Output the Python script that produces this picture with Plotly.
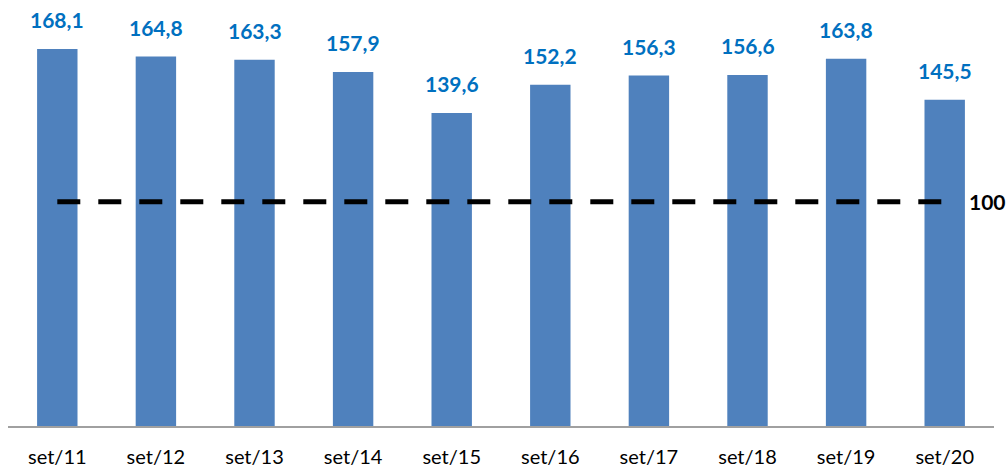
import plotly.graph_objects as go

categories = ["set/11", "set/12", "set/13", "set/14", "set/15", "set/16", "set/17", "set/18", "set/19", "set/20"]
values = [168.1, 164.8, 163.3, 157.9, 139.6, 152.2, 156.3, 156.6, 163.8, 145.5]
reference = [100] * len(categories)
ref_label = "100"

def fmt(v):
    return f"{v:.1f}".replace(".", ",")

fig = go.Figure()
fig.add_trace(go.Bar(x=categories, y=values, marker=dict(color="#4F81BD", line=dict(width=0)),
                     hoverinfo="skip"))
fig.add_trace(go.Scatter(x=categories, y=reference, mode="lines",
                         line=dict(color="black", width=5, dash="23px,18px"),
                         hoverinfo="skip"))

for c, v in zip(categories, values):
    fig.add_annotation(x=c, y=v, text=fmt(v), showarrow=False, yanchor="bottom", yshift=15,
                       font=dict(family="Lato", size=21, color="#0070C0", weight="bold"))

fig.add_annotation(x=categories[-1], y=reference[-1], text=ref_label, showarrow=False,
                   xanchor="left", xshift=22, yanchor="middle",
                   font=dict(family="Lato", size=21, color="black", weight="bold"))

fig.update_layout(
    width=1007, height=469,
    margin=dict(l=8, r=13, t=0, b=43),
    paper_bgcolor="white", plot_bgcolor="white",
    showlegend=False, bargap=0.59,
    xaxis=dict(showline=True, linecolor="#A0A0A0", linewidth=2, showgrid=False,
               range=[-0.5, len(categories) - 0.5],
               ticks="", ticklabelstandoff=12,
               tickfont=dict(family="Lato", size=20, color="black")),
    yaxis=dict(range=[0, 190], visible=False, showgrid=False, zeroline=False),
)
fig.write_html("out.html", config={"displayModeBar": False},
               post_script="document.body.style.margin='0';document.body.style.overflow='hidden';")
